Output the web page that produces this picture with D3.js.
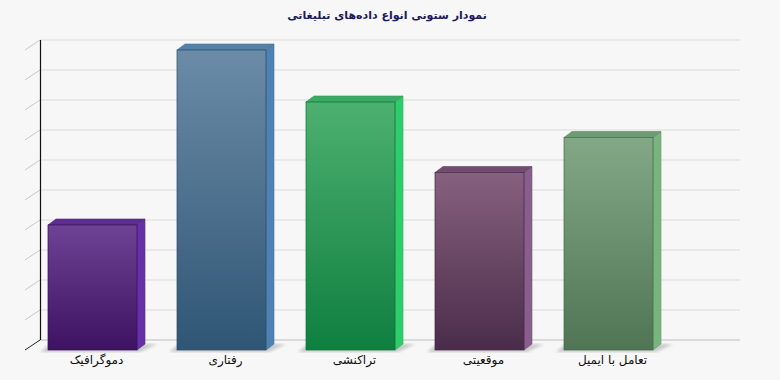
<!DOCTYPE html>
<html>
<head>
<meta charset="utf-8">
<script src="https://cdn.jsdelivr.net/npm/d3@7"></script>
<style>
  body { margin: 0; background: #f7f7f7; }
  svg { display: block; }
</style>
</head>
<body>
<div id="chart"></div>
<script>
// chart data
const categories = ["دموگرافیک", "رفتاری", "تراکنشی", "موقعیتی", "تعامل با ایمیل"];
const values = [25, 60, 49.6, 35.5, 42.5];
const frontTop = ["#6e4294", "#6b8ba7", "#4cb070", "#86617f", "#82a886"];
const frontBottom = ["#3d1262", "#2f5675", "#0f7f3f", "#4a2c4a", "#4f7554"];
const sideColors = ["#6630a8", "#4f82b4", "#2ecc6a", "#8a5e8c", "#78b47e"];
const topColors = ["#5d2e90", "#5580a8", "#3aab66", "#714c70", "#6c9c71"];
const title = "نمودار ستونی انواع داده‌های تبلیغاتی";

const svgWidth = 780;
const svgHeight = 380;

// wall depth and bar depth
const wallDx = -15, wallDy = 10;
const barDx = 8, barDy = -6;

const svg = d3.select("#chart")
  .append("svg")
  .attr("width", svgWidth)
  .attr("height", svgHeight);

svg.append("rect")
  .attr("width", svgWidth)
  .attr("height", svgHeight)
  .attr("fill", "#f7f7f7");

// scales: back wall and front plane
const yBack = d3.scaleLinear().domain([0, 60]).range([340, 40]);
const yFront = d3.scaleLinear().domain([0, 60]).range([350, 50]);
const xScale = d3.scaleBand()
  .domain(categories)
  .range([28, 673])
  .paddingInner(0.31)
  .paddingOuter(0.155);

const defs = svg.append("defs");
categories.forEach((c, i) => {
  const g = defs.append("linearGradient")
    .attr("id", "grad" + i)
    .attr("x1", 0).attr("y1", 0).attr("x2", 0).attr("y2", 1);
  g.append("stop").attr("offset", "0%").attr("stop-color", frontTop[i]);
  g.append("stop").attr("offset", "100%").attr("stop-color", frontBottom[i]);
});
defs.append("filter")
  .attr("id", "blur")
  .append("feGaussianBlur")
  .attr("stdDeviation", 1.5);

// gridlines on back wall
const ticks = d3.range(0, 61, 6);
svg.append("g")
  .selectAll("line")
  .data(ticks)
  .enter()
  .append("line")
  .attr("x1", 40)
  .attr("x2", 740)
  .attr("y1", d => yBack(d))
  .attr("y2", d => yBack(d))
  .attr("stroke", d => d === 0 ? "#bdbdbd" : "#dcdcdc")
  .attr("stroke-width", 1.2);

// left wall: diagonal ticks
svg.append("g")
  .selectAll("line")
  .data(ticks)
  .enter()
  .append("line")
  .attr("x1", 40)
  .attr("y1", d => yBack(d))
  .attr("x2", 40 + wallDx)
  .attr("y2", d => yBack(d) + wallDy)
  .attr("stroke", d => d === 0 ? "#222" : "#c8c8c8")
  .attr("stroke-width", 1);

svg.append("line")
  .attr("x1", 40.5).attr("x2", 40.5)
  .attr("y1", yBack(60)).attr("y2", yBack(0))
  .attr("stroke", "#111")
  .attr("stroke-width", 1.2);

// bars
const bars = svg.append("g")
  .selectAll("g")
  .data(categories)
  .enter()
  .append("g");

// floor shadows
bars.append("polygon")
  .attr("points", (d, i) => {
    const x0 = xScale(d), x1 = x0 + xScale.bandwidth();
    const y0 = yFront(0);
    return [[x0 - 8, y0 + 2], [x1 + 3, y0 + 2], [x1 + barDx + 12, y0 + barDy], [x0 + 2, y0 + barDy]].join(" ");
  })
  .attr("fill", "#c9c9c9")
  .attr("filter", "url(#blur)");

// side face
bars.append("polygon")
  .attr("points", (d, i) => {
    const x1 = xScale(d) + xScale.bandwidth();
    const yt = yFront(values[i]), yb = yFront(0);
    return [[x1, yt], [x1 + barDx, yt + barDy], [x1 + barDx, yb + barDy], [x1, yb]].join(" ");
  })
  .attr("fill", (d, i) => sideColors[i])
  .attr("stroke", (d, i) => d3.color(sideColors[i]).darker(0.4))
  .attr("stroke-width", 0.6);

// top face
bars.append("polygon")
  .attr("points", (d, i) => {
    const x0 = xScale(d), x1 = x0 + xScale.bandwidth();
    const yt = yFront(values[i]);
    return [[x0, yt], [x0 + barDx, yt + barDy], [x1 + barDx, yt + barDy], [x1, yt]].join(" ");
  })
  .attr("fill", (d, i) => topColors[i])
  .attr("stroke", (d, i) => d3.color(topColors[i]).darker(0.4))
  .attr("stroke-width", 0.6);

// front face
bars.append("rect")
  .attr("x", d => xScale(d))
  .attr("y", (d, i) => yFront(values[i]))
  .attr("width", xScale.bandwidth())
  .attr("height", (d, i) => yFront(0) - yFront(values[i]))
  .attr("fill", (d, i) => `url(#grad${i})`)
  .attr("stroke", (d, i) => d3.color(frontBottom[i]).darker(0.3))
  .attr("stroke-width", 0.7);

// category labels
svg.append("g")
  .selectAll("text")
  .data(categories)
  .enter()
  .append("text")
  .attr("x", d => xScale(d) + xScale.bandwidth() / 2 + 4)
  .attr("y", 364)
  .attr("text-anchor", "middle")
  .attr("direction", "rtl")
  .attr("font-family", "'DejaVu Sans', sans-serif")
  .attr("font-size", 12)
  .attr("fill", "#111")
  .text(d => d);

// title
svg.append("text")
  .attr("x", 387)
  .attr("y", 19)
  .attr("text-anchor", "middle")
  .attr("direction", "rtl")
  .attr("font-family", "'DejaVu Sans', sans-serif")
  .attr("font-size", 11)
  .attr("font-weight", "bold")
  .attr("fill", "#1c1a5c")
  .text(title);
</script>
</body>
</html>
